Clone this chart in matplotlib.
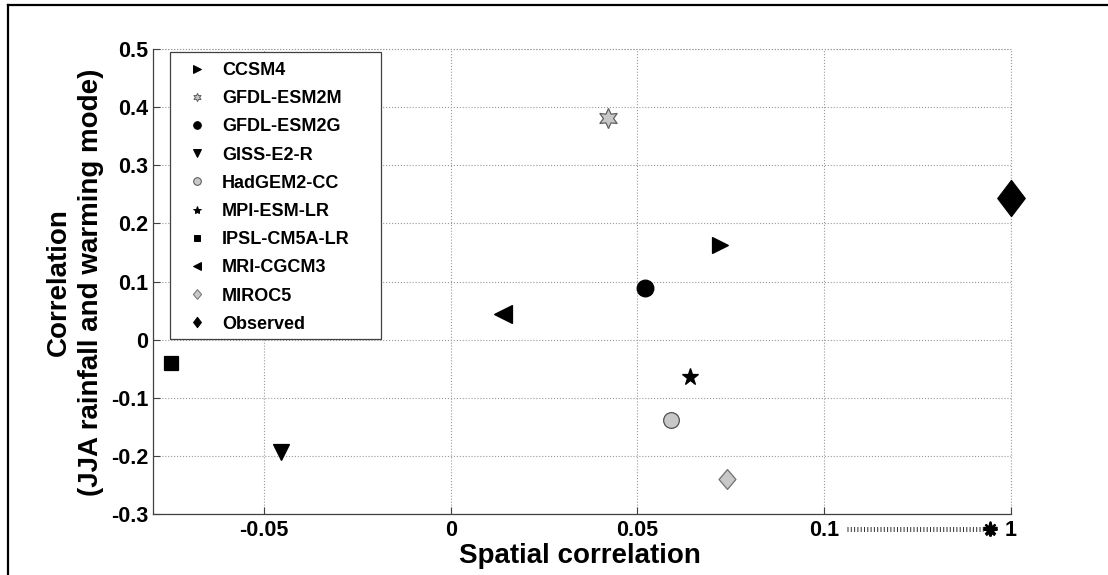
import numpy as np
import matplotlib
matplotlib.use("Agg")
import matplotlib.pyplot as plt
from matplotlib.lines import Line2D
from matplotlib.patches import Rectangle
from matplotlib.path import Path

# ---------------- data ----------------
models = ["CCSM4", "GFDL-ESM2M", "GFDL-ESM2G", "GISS-E2-R", "HadGEM2-CC",
          "MPI-ESM-LR", "IPSL-CM5A-LR", "MRI-CGCM3", "MIROC5", "Observed"]
spatial_corr = [0.072, 0.042, 0.052, -0.0455, 0.059, 0.064, -0.075, 0.014, 0.074, 1.0]
jja_corr = [0.163, 0.381, 0.089, -0.194, -0.139, -0.065, -0.040, 0.044, -0.239, 0.244]

xtick_vals = [-0.05, 0, 0.05, 0.1, 1]
xtick_labels = ["-0.05", "0", "0.05", "0.1", "1"]
ytick_vals = [-0.3, -0.2, -0.1, 0, 0.1, 0.2, 0.3, 0.4, 0.5]
ytick_labels = ["-0.3", "-0.2", "-0.1", "0", "0.1", "0.2", "0.3", "0.4", "0.5"]

# ---------------- styles ----------------
plt.rcParams['font.family'] = ['Liberation Sans', 'DejaVu Sans']
plt.rcParams['font.weight'] = 'bold'

GRAYF = '#c8c8c8'
GRAYE = '#606060'

def diamond(ratio):
    return Path([(0, 1), (ratio, 0), (0, -1), (-ratio, 0), (0, 1)],
                [Path.MOVETO, Path.LINETO, Path.LINETO, Path.LINETO, Path.CLOSEPOLY])

styles = {
    "CCSM4":        dict(marker='>', mfc='k', mec='k', ms=12),
    "GFDL-ESM2M":   dict(marker=(6, 1, 0), mfc=GRAYF, mec=GRAYE, ms=14.5),
    "GFDL-ESM2G":   dict(marker='o', mfc='k', mec='k', ms=12),
    "GISS-E2-R":    dict(marker='v', mfc='k', mec='k', ms=12),
    "HadGEM2-CC":   dict(marker='o', mfc=GRAYF, mec='#505050', ms=11.3),
    "MPI-ESM-LR":   dict(marker='*', mfc='k', mec='k', ms=12.5),
    "IPSL-CM5A-LR": dict(marker='s', mfc='k', mec='k', ms=9.8),
    "MRI-CGCM3":    dict(marker='<', mfc='k', mec='k', ms=12.5),
    "MIROC5":       dict(marker=diamond(0.85), mfc=GRAYF, mec='#707070', ms=14.3),
    "Observed":     dict(marker=diamond(0.76), mfc='k', mec='k', ms=26),
}
legend_ms = {"CCSM4": 5.5, "GFDL-ESM2M": 6, "GFDL-ESM2G": 5.5, "GISS-E2-R": 5.5,
             "HadGEM2-CC": 5.5, "MPI-ESM-LR": 6, "IPSL-CM5A-LR": 4.8,
             "MRI-CGCM3": 5.5, "MIROC5": 7, "Observed": 7.5}

# ---------------- broken x scale ----------------
def fwd(x):
    x = np.asarray(x, dtype=float)
    return np.where(x <= 0.1, x, 0.1 + (x - 0.1) * 0.05 / 0.9)

def inv(y):
    y = np.asarray(y, dtype=float)
    return np.where(y <= 0.1, y, 0.1 + (y - 0.1) * 0.9 / 0.05)

W, H = 1108, 575
AX_L, AX_R, AX_T, AX_B = 153, 1011, 49, 514
fig = plt.figure(figsize=(W / 100, H / 100), dpi=100)
ax = fig.add_axes([AX_L / W, 1 - AX_B / H, (AX_R - AX_L) / W, (AX_B - AX_T) / H])
ax.set_xscale('function', functions=(fwd, inv))
ax.set_xlim(-0.0797, 1.0)
ax.set_ylim(-0.3, 0.5)

def axfrac(px, py):
    return ((px - AX_L) / (AX_R - AX_L), (AX_B - py) / (AX_B - AX_T))

for name, xv, yv in zip(models, spatial_corr, jja_corr):
    st = styles[name]
    ax.plot([xv], [yv], linestyle='None', marker=st['marker'], markerfacecolor=st['mfc'],
            markeredgecolor=st['mec'], markersize=st['ms'], markeredgewidth=0.9,
            zorder=3, clip_on=False)

ax.set_xticks(xtick_vals)
ax.set_xticklabels(xtick_labels)
ax.set_yticks(ytick_vals)
ax.set_yticklabels(ytick_labels)
ax.minorticks_off()
ax.tick_params(axis='both', direction='in', length=5, width=0.8, color='#404040',
               labelsize=15.5, labelcolor='k')
ax.tick_params(axis='y', pad=3.5)
ax.tick_params(axis='x', pad=4.5)
for lab in ax.get_xticklabels() + ax.get_yticklabels():
    lab.set_fontweight('bold')

for s in ['top', 'right']:
    ax.spines[s].set_visible(False)
for s in ['left', 'bottom']:
    ax.spines[s].set_color('#404040')
    ax.spines[s].set_linewidth(0.9)

# grid (including top and right edges)
ax.grid(True, linestyle=':', color='#999999', linewidth=0.8, zorder=0)
ax.set_axisbelow(True)
ax.axhline(0.5, linestyle=':', color='#999999', linewidth=0.8, zorder=0, clip_on=False)
ax.axvline(1.0, linestyle=':', color='#999999', linewidth=0.8, zorder=0, clip_on=False)

# legend box (MATLAB style, with wide right padding)
x0, y0 = axfrac(170, 339)
x1, y1 = axfrac(381, 52)
ax.add_patch(Rectangle((x0, y0), x1 - x0, y1 - y0, transform=ax.transAxes,
                       facecolor='white', edgecolor='#404040', linewidth=0.9,
                       zorder=4, clip_on=False))
handles = []
for name in models:
    st = styles[name]
    handles.append(Line2D([], [], linestyle='None', marker=st['marker'],
                          markerfacecolor=st['mfc'], markeredgecolor=st['mec'],
                          markersize=legend_ms[name], markeredgewidth=0.7))
lx, ly = axfrac(188, 62)
leg = ax.legend(handles, models, loc='upper left', bbox_to_anchor=(lx, ly),
                fontsize=13, frameon=False, handlelength=1.0, handletextpad=0.88,
                labelspacing=0.62, borderpad=0.0, borderaxespad=0.0)
leg.set_zorder(5)
for t in leg.get_texts():
    t.set_fontweight('bold')

# axis break decoration
bx0, by = axfrac(847, 528.5)
bx1, _ = axfrac(983, 528.5)
sx, sy = axfrac(990, 529)
ax.plot([bx0, bx1], [by, by], transform=ax.transAxes, color='#333333',
        linewidth=3.6, linestyle=(0, (0.2, 0.46)), clip_on=False)
ax.plot([sx], [sy], transform=ax.transAxes, marker='*', color='k',
        markersize=11, clip_on=False)
ax.plot([sx], [sy], transform=ax.transAxes, marker=(8, 2, 0), color='k',
        markersize=10, markeredgewidth=1.6, clip_on=False)

# labels
fig.text(580 / W, 1 - 563 / H, "Spatial correlation", ha='center', va='baseline',
         fontsize=20, fontweight='bold')
fig.text(75 / W, 1 - 282 / H, "Correlation\n(JJA rainfall and warming mode)",
         ha='center', va='center', rotation=90, fontsize=20, fontweight='bold',
         multialignment='center', linespacing=1.3)

# outer frame (top and left)
fig.add_artist(Line2D([7.5 / W, 1], [1 - 5 / H, 1 - 5 / H], transform=fig.transFigure,
                      color='k', linewidth=1.6))
fig.add_artist(Line2D([7.5 / W, 7.5 / W], [0, 1 - 5 / H], transform=fig.transFigure,
                      color='k', linewidth=1.6))

fig.savefig("out.png", dpi=100)
